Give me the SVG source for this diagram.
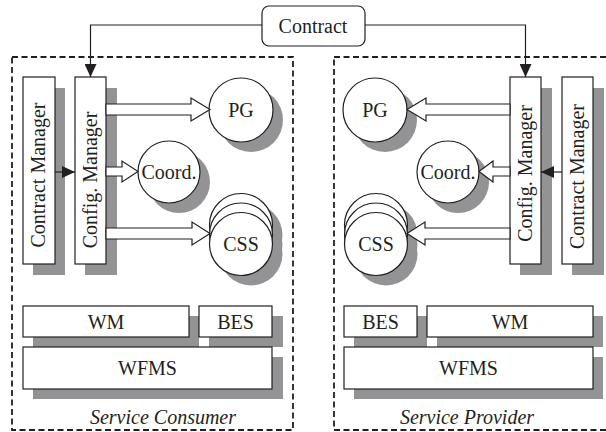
<svg xmlns="http://www.w3.org/2000/svg" width="606" height="432" viewBox="0 0 606 432">
<style>
text{font-family:"Liberation Serif","DejaVu Serif",serif;font-size:20px;fill:#231f20}
.c{text-anchor:middle}
.it{font-style:italic}
.box{fill:#fff;stroke:#231f20;stroke-width:1.2}
.sh{fill:#939396}
.dash{fill:none;stroke:#231f20;stroke-width:1.8;stroke-dasharray:6 3.5}
.ln{fill:none;stroke:#231f20;stroke-width:1.2}
.blk{fill:#fff;stroke:#231f20;stroke-width:1.2;stroke-linejoin:miter}
</style>
<defs>
<marker id="ah" markerUnits="userSpaceOnUse" markerWidth="13" markerHeight="12" refX="13" refY="6" orient="auto">
<path d="M0,0 L13,6 L0,12 z" fill="#231f20"/>
</marker>
</defs>
<g id="consumer-frame">
<rect class="dash" x="12" y="57" width="281" height="373"/>
<text class="c it" x="163" y="424">Service Consumer</text>
</g>
<g id="provider-frame">
<rect class="dash" x="334" y="57" width="282" height="373"/>
<text class="c it" x="467" y="424">Service Provider</text>
</g>
<g id="contract">
<rect class="box" x="262" y="6" width="103" height="40" rx="7"/>
<text class="c" x="313" y="33">Contract</text>
</g>
<g id="consumer-contract-manager">
<rect class="sh" x="33" y="88" width="32" height="187"/>
<rect class="box" x="23" y="77" width="32" height="187"/>
<text class="c" transform="translate(45,175) rotate(-90)">Contract Manager</text>
</g>
<g id="consumer-config-manager">
<rect class="sh" x="85" y="88" width="32" height="187"/>
<rect class="box" x="75" y="77" width="31" height="187"/>
<text class="c" transform="translate(97,180) rotate(-90)">Config. Manager</text>
</g>
<g id="consumer-pg">
<circle class="sh" cx="251" cy="120" r="32"/>
<circle class="box" cx="241" cy="110" r="32"/>
<text class="c" x="241" y="117">PG</text>
</g>
<g id="consumer-coord">
<circle class="sh" cx="179" cy="182" r="31"/>
<circle class="box" cx="169" cy="172" r="31"/>
<text class="c" x="169" y="179">Coord.</text>
</g>
<g id="consumer-css">
<circle class="sh" cx="251" cy="235" r="31.5"/>
<circle class="sh" cx="251" cy="244.5" r="31.5"/>
<circle class="sh" cx="251" cy="254" r="31.5"/>
<circle class="box" cx="241" cy="225" r="31.5"/>
<circle class="box" cx="241" cy="234.5" r="31.5"/>
<circle class="box" cx="241" cy="244" r="31.5"/>
<text class="c" x="241" y="251">CSS</text>
</g>
<g id="consumer-wm">
<rect class="sh" x="33" y="316" width="166" height="31"/>
<rect class="box" x="23" y="306" width="166" height="31"/>
<text class="c" x="106" y="328.5">WM</text>
</g>
<g id="consumer-bes">
<rect class="sh" x="209" y="316" width="74" height="31"/>
<rect class="box" x="199" y="306" width="73" height="31"/>
<text class="c" x="235.5" y="328.5">BES</text>
</g>
<g id="consumer-wfms">
<rect class="sh" x="33" y="357" width="250" height="42"/>
<rect class="box" x="23" y="347" width="249" height="42"/>
<text class="c" x="147.5" y="375">WFMS</text>
</g>
<g id="provider-config-manager">
<rect class="sh" x="520" y="88" width="32" height="187"/>
<rect class="box" x="510" y="77" width="31" height="187"/>
<text class="c" transform="translate(532,173.5) rotate(-90)">Config. Manager</text>
</g>
<g id="provider-contract-manager">
<rect class="sh" x="572" y="88" width="32" height="187"/>
<rect class="box" x="562" y="77" width="31" height="187"/>
<text class="c" transform="translate(584,176.5) rotate(-90)">Contract Manager</text>
</g>
<g id="provider-pg">
<circle class="sh" cx="385" cy="120" r="32"/>
<circle class="box" cx="375" cy="110" r="32"/>
<text class="c" x="375" y="117">PG</text>
</g>
<g id="provider-coord">
<circle class="sh" cx="458" cy="182" r="31"/>
<circle class="box" cx="448" cy="172" r="31"/>
<text class="c" x="448" y="179">Coord.</text>
</g>
<g id="provider-css">
<circle class="sh" cx="386" cy="235" r="31.5"/>
<circle class="sh" cx="386" cy="244.5" r="31.5"/>
<circle class="sh" cx="386" cy="254" r="31.5"/>
<circle class="box" cx="376" cy="225" r="31.5"/>
<circle class="box" cx="376" cy="234.5" r="31.5"/>
<circle class="box" cx="376" cy="244" r="31.5"/>
<text class="c" x="376" y="251">CSS</text>
</g>
<g id="provider-bes">
<rect class="sh" x="354" y="316" width="73" height="31"/>
<rect class="box" x="344" y="306" width="73" height="31"/>
<text class="c" x="380.5" y="328.5">BES</text>
</g>
<g id="provider-wm">
<rect class="sh" x="437" y="316" width="166" height="31"/>
<rect class="box" x="427" y="306" width="166" height="31"/>
<text class="c" x="510" y="328.5">WM</text>
</g>
<g id="provider-wfms">
<rect class="sh" x="354" y="357" width="249" height="42"/>
<rect class="box" x="344" y="347" width="249" height="42"/>
<text class="c" x="468.5" y="375">WFMS</text>
</g>
<g id="connectors">
<path class="ln" d="M262,25 H90.5 V77" marker-end="url(#ah)"/>
<path class="ln" d="M365,25 H525.5 V77" marker-end="url(#ah)"/>
<path class="ln" d="M55,172 H75" marker-end="url(#ah)"/>
<path class="ln" d="M562,172 H541" marker-end="url(#ah)"/>
<path class="blk" d="M106,104 H191 V98 L210,109.5 L191,121 V115 H106 Z"/>
<path class="blk" d="M106,167 H122 V161 L138,171.5 L122,182 V176 H106 Z"/>
<path class="blk" d="M106,228 H192 V222 L210,233.5 L192,245 V239 H106 Z"/>
<path class="blk" d="M510,104 H426 V98 L407,109.5 L426,121 V115 H510 Z"/>
<path class="blk" d="M510,167 H493 V161 L479,171.5 L493,182 V176 H510 Z"/>
<path class="blk" d="M510,228 H425 V222 L407,233.5 L425,245 V239 H510 Z"/>
</g>
</svg>
